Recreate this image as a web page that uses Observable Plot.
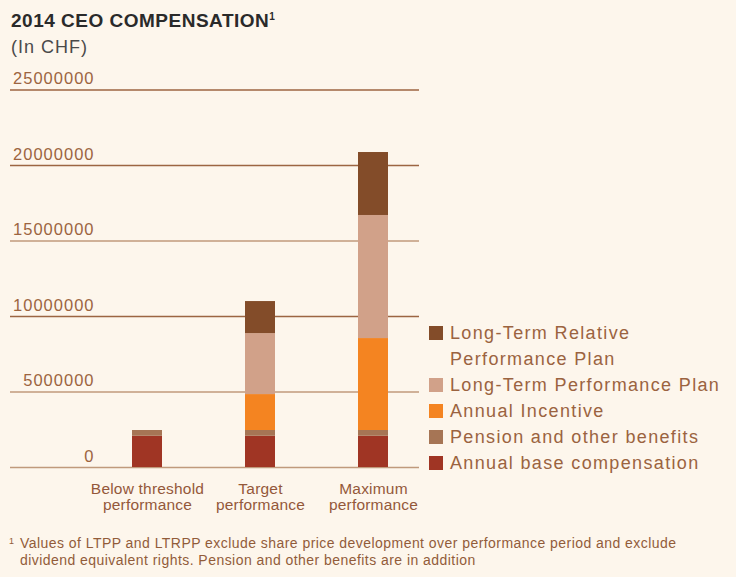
<!DOCTYPE html>
<html>
<head>
<meta charset="utf-8">
<script src="https://cdn.jsdelivr.net/npm/d3@7"></script>
<script src="https://cdn.jsdelivr.net/npm/@observablehq/plot@0.6"></script>
<style>
  html, body { margin: 0; padding: 0; background: #fdf6ec; }
  #wrap { position: relative; width: 736px; height: 577px; background: #fdf6ec; overflow: hidden; font-family: "Liberation Sans", Arial, sans-serif; }
  #title { position: absolute; left: 11px; top: 10px; font-size: 19px; font-weight: bold; color: #2a2a2a; letter-spacing: 0.5px; line-height: 22px; }
  #title sup { font-size: 10px; vertical-align: 7px; line-height: 0; letter-spacing: 0; }
  #subtitle { position: absolute; left: 11px; top: 36px; font-size: 18px; color: #4a4a4a; line-height: 22px; letter-spacing: 1px; }
  #chart { position: absolute; left: 0; top: 60px; }
  #chart g[aria-label="y-axis tick label"] text { letter-spacing: 1px; }
  #chart g[aria-label="x-axis tick label"] text { letter-spacing: 0.2px; }
  #legend { position: absolute; left: 429px; top: 320px; color: #9b6340; font-size: 18px; letter-spacing: 1.35px; }
  .lrow { position: relative; padding-left: 21px; line-height: 26px; }
  .lsw { position: absolute; left: 0; top: 6px; width: 14px; height: 14px; }
  #foot { position: absolute; left: 20px; top: 535px; width: 716px; font-size: 14px; line-height: 16.5px; color: #925c3a; letter-spacing: 0.45px; white-space: nowrap; }
  #foot .n { position: absolute; left: -11px; top: -2px; font-size: 9px; }
</style>
</head>
<body>
<div id="wrap">
  <div id="title">2014 CEO COMPENSATION<sup>1</sup></div>
  <div id="subtitle">(In CHF)</div>
  <div id="chart"></div>
  <div id="legend"></div>
  <div id="foot"><span class="n">1</span>Values of LTPP and LTRPP exclude share price development over performance period and exclude<br>dividend equivalent rights. Pension and other benefits are in addition</div>
</div>
<script>
const categories = ["Below threshold\nperformance", "Target\nperformance", "Maximum\nperformance"];
const series = ["Annual base compensation", "Pension and other benefits", "Annual Incentive", "Long-Term Performance Plan", "Long-Term Relative Performance Plan"];
const colors = ["#a03524", "#a67555", "#f48421", "#d1a189", "#834c29"];
const baseComp = [2070000, 2070000, 2070000];
const pension = [380000, 380000, 380000];
const incentive = [0, 2380000, 6090000];
const ltpp = [0, 4040000, 8150000];
const ltrpp = [0, 2120000, 4170000];
const yTicks = [0, 5000000, 10000000, 15000000, 20000000, 25000000];
const darkTicks = [25000000, 20000000, 10000000];
const lightTicks = [15000000, 5000000, 0];

const seriesValues = [baseComp, pension, incentive, ltpp, ltrpp];
const rows = [];
series.forEach((s, si) => {
  categories.forEach((c, ci) => {
    rows.push({cat: c, series: s, value: seriesValues[si][ci]});
  });
});

const chart = Plot.plot({
  width: 736,
  height: 460,
  marginLeft: 10,
  marginRight: 317,
  marginTop: 29.5,
  marginBottom: 53,
  style: {background: "transparent", fontFamily: "Liberation Sans, Arial, sans-serif"},
  x: {domain: categories, paddingInner: 0.736, paddingOuter: 0.67, align: 0.796, label: null},
  y: {domain: [0, 25000000], label: null},
  color: {domain: series, range: colors},
  marks: [
    Plot.ruleY(darkTicks, {stroke: "#9c6542", strokeWidth: 1.3}),
    Plot.ruleY(lightTicks, {stroke: "#c09a7c", strokeWidth: 1.6}),
    Plot.barY(rows, {x: "cat", y: "value", fill: "series", order: series}),
    Plot.axisY(yTicks, {
      anchor: "left", tickSize: 0, tickPadding: 0, dx: 84, dy: -11,
      tickFormat: d => String(d), fontSize: 16.5, fill: "#9c6440"
    }),
    Plot.axisX({
      tickSize: 0, tickPadding: 15, fontSize: 15.5, fill: "#94583a",
      lineHeight: 1.05, tickFormat: d => d
    })
  ]
});
document.getElementById("chart").appendChild(chart);

const legend = document.getElementById("legend");
const legendOrder = [4, 3, 2, 1, 0];
const legendText = ["Annual base compensation", "Pension and other benefits", "Annual Incentive", "Long-Term Performance Plan", "Long-Term Relative<br>Performance Plan"];
legendOrder.forEach(i => {
  const row = document.createElement("div");
  row.className = "lrow";
  row.innerHTML = `<span class="lsw" style="background:${colors[i]}"></span>${legendText[i]}`;
  legend.appendChild(row);
});
</script>
</body>
</html>
